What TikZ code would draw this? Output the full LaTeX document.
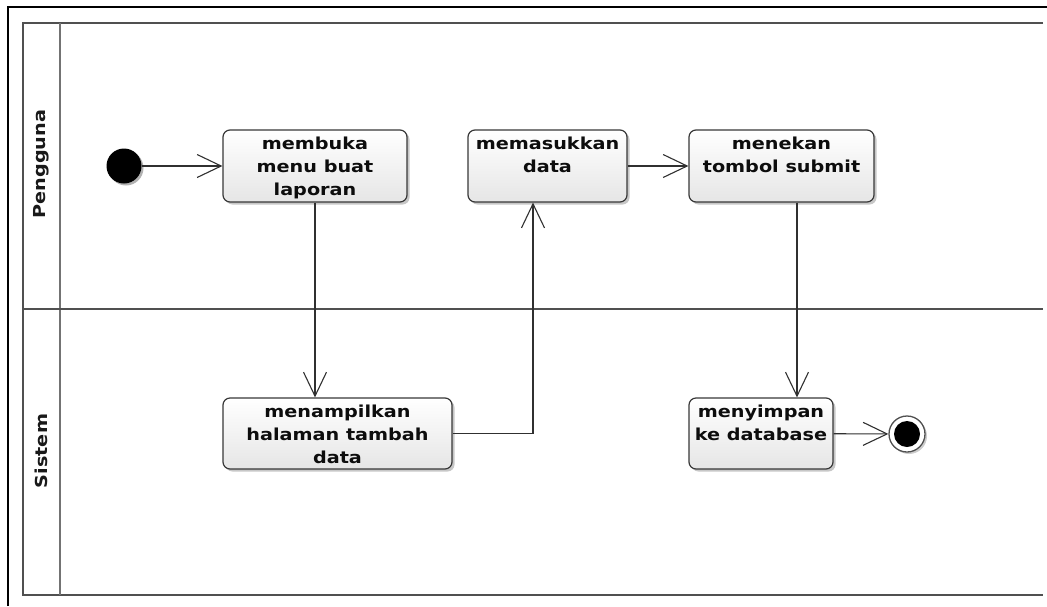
\documentclass[tikz,border=0pt]{standalone}
\usepackage{fontspec}
\usetikzlibrary{arrows.meta,shadows}
\newfontfamily\actfont{DejaVu Sans Bold}[FakeStretch=1.165]
% top-aligned, centred text block of a fixed size inside an action box
\newcommand\acttext[3]{\parbox[c][#2][t]{#1}{\centering\rule{0pt}{19.5pt}#3}}
\definecolor{poolline}{HTML}{505050}
\definecolor{flowline}{HTML}{303030}
\begin{document}
\begin{tikzpicture}[x=1pt,y=-1pt,
  act/.style={draw=black!78, line width=1.2pt, rounded corners=7pt,
    top color=white, bottom color=black!10, inner sep=0pt,
    drop shadow={shadow xshift=2.5pt, shadow yshift=-2.5pt, opacity=0.22, fill=black},
    font=\actfont\fontsize{16.5}{23}\selectfont, text=black!95},
  lanelabel/.style={font=\actfont\fontsize{16.5}{20}\selectfont, text=black!90, rotate=90, inner sep=0pt},
  flow/.style={draw=flowline, line width=1.1pt,
    -{Straight Barb[length=24pt,width=23pt,line width=1.1pt]}},
  startnode/.style={circle, fill=black, minimum size=35pt, inner sep=0pt,
    drop shadow={shadow xshift=2pt, shadow yshift=-2pt, opacity=0.3, fill=black}},
  endnode/.style={circle, draw=poolline, line width=1.3pt, fill=white, minimum size=36pt, inner sep=0pt,
    drop shadow={shadow xshift=2pt, shadow yshift=-2pt, opacity=0.2, fill=black}},
  endcore/.style={circle, fill=black, minimum size=26pt, inner sep=0pt}
]
\useasboundingbox (0,0) rectangle (1047,606);
\fill[white] (0,0) rectangle (1047,606);

% outer frame (left and top edges)
\draw[black, line width=1.8pt] (8,606) -- (8,7) -- (1047,7);

% swimlane pool
\draw[poolline, line width=1.8pt] (1043,23) -- (23,23) -- (23,595) -- (1043,595);
\draw[poolline!80, line width=1.5pt] (60,23) -- (60,595);
\draw[poolline, line width=1.5pt] (23,309) -- (1043,309);
\node[lanelabel] (lpengguna) at (41,164) {Pengguna};
\node[lanelabel] (lsistem) at (41,451) {Sistem};

% start and end
\node[startnode] (ini) at (124,166) {};
\node[endnode] (fin) at (907,434) {};
\node[endcore] (fincore) at (fin.center) {};

% actions
\node[act] (b1) at (315,166) {\acttext{184pt}{72pt}{membuka\\menu buat\\laporan}};
\node[act] (b2) at (547.5,166) {\acttext{159pt}{72pt}{memasukkan\\data}};
\node[act] (b3) at (781.5,166) {\acttext{185pt}{72pt}{menekan\\tombol submit}};
\node[act] (b4) at (337.5,433.5) {\acttext{229pt}{71pt}{menampilkan\\halaman tambah\\data}};
\node[act] (b5) at (761,433.5) {\acttext{144pt}{71pt}{menyimpan\\ke database}};

% control flow
\draw[flow] (ini) -- (b1);
\draw[flow] (b1.south) -- (b1.south |- b4.north);
\draw[flow] (b4.east) -| ([xshift=-14.5pt]b2.south);
\draw[flow] (b2) -- (b3);
\draw[flow] ([xshift=15.5pt]b3.south) -- ([xshift=15.5pt]b3.south |- b5.north);
\draw[flow] (b5) -- (fin);
\end{tikzpicture}
\end{document}
